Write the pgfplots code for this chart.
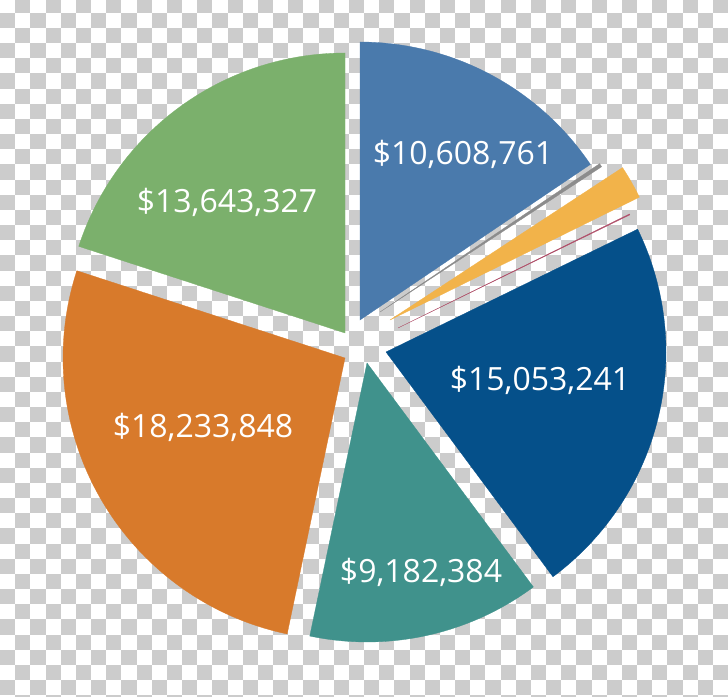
\documentclass[border=0pt]{standalone}
\usepackage{pgfplots}
\usepackage{pgfplotstable}
\pgfplotsset{compat=1.18}
\usepackage{fontspec}
\setmainfont{Open Sans}
\definecolor{cBlue}{HTML}{4A7AAC}
\definecolor{cGray}{HTML}{8C8C8C}
\definecolor{cYellow}{HTML}{F2B34A}
\definecolor{cPink}{HTML}{B0506A}
\definecolor{cNavy}{HTML}{05508A}
\definecolor{cTeal}{HTML}{40928C}
\definecolor{cOrange}{HTML}{D87A2B}
\definecolor{cGreen}{HTML}{7BB06C}
\definecolor{chk}{HTML}{CCCCCC}

% slice value, apex (x,y) of the exploded slice, radius, colour
\pgfplotstableread{
value cx cy r col
10608761 360 376 278 cBlue
150000 380 384 265 cGray
1330000 390 376 278 cYellow
40000 398 368 258 cPink
15053241 386 344 280 cNavy
9182384 367 333 279 cTeal
18233848 345 338 282 cOrange
13643327 345 363 280 cGreen
}\piedata

\begin{document}
\begin{tikzpicture}
\useasboundingbox (0,0) rectangle (728pt,696pt);
\fill[white] (0,0) rectangle (728pt,696pt);
\begin{scope}
\clip (0,0) rectangle (728pt,696pt);
\foreach \i in {0,...,47}{
  \foreach \j in {0,...,46}{
    \pgfmathtruncatemacro\p{mod(\i+\j,2)}
    \ifnum\p=1
      \fill[chk] ({\i*15.17pt},{698.5pt-\j*15.17pt}) rectangle ++(15.17pt,-15.17pt);
    \fi
  }
}
\end{scope}
\def\total{0}
\pgfplotsforeachungrouped \i in {0,...,7}{%
  \pgfplotstablegetelem{\i}{value}\of\piedata
  \edef\total{\fpeval{\total+\pgfplotsretval}}%
}
\begin{axis}[
  at={(0pt,0pt)}, anchor=south west,
  scale only axis, width=728pt, height=696pt,
  xmin=0, xmax=728, ymin=0, ymax=696,
  hide axis, clip=false,
]
\def\astart{90}
\pgfplotsforeachungrouped \i in {0,...,7}{%
  \pgfplotstablegetelem{\i}{value}\of\piedata \edef\v{\pgfplotsretval}%
  \pgfplotstablegetelem{\i}{cx}\of\piedata \edef\cx{\pgfplotsretval}%
  \pgfplotstablegetelem{\i}{cy}\of\piedata \edef\cy{\pgfplotsretval}%
  \pgfplotstablegetelem{\i}{r}\of\piedata \edef\rr{\pgfplotsretval}%
  \pgfplotstablegetelem{\i}{col}\of\piedata \edef\col{\pgfplotsretval}%
  \edef\aend{\fpeval{round(\astart-\v*360/\total,4)}}%
  \edef\cmd{\noexpand\addplot[fill=\col, draw=\col, line width=0.3pt, domain=\aend:\astart, samples=80, variable=\noexpand\t]
    ({\cx+\rr*cos(\noexpand\t)},{\cy+\rr*sin(\noexpand\t)}) -- (axis cs:\cx,\cy) -- cycle;}%
  \cmd
  \edef\astart{\aend}%
}
\tikzset{lbl/.style={text=white, font=\fontsize{32}{34}\selectfont, anchor=center}}
\node[lbl] at (axis cs:463,542) {\$10,608,761};
\node[lbl] at (axis cs:227,494) {\$13,643,327};
\node[lbl] at (axis cs:203,269) {\$18,233,848};
\node[lbl] at (axis cs:540,316) {\$15,053,241};
\node[lbl] at (axis cs:421,124) {\$9,182,384};
\end{axis}
\end{tikzpicture}
\end{document}
